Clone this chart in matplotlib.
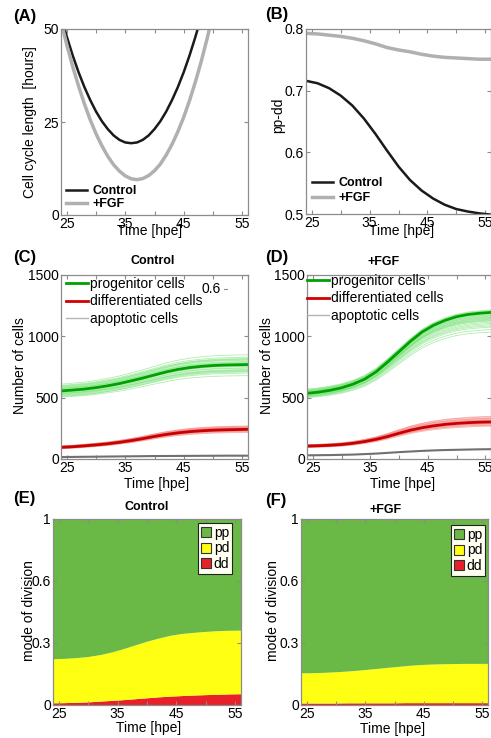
import matplotlib
matplotlib.use('Agg')
import matplotlib.pyplot as plt
import numpy as np
from matplotlib.patches import Patch
from matplotlib.lines import Line2D

plt.rcParams['font.family'] = ['Liberation Sans', 'DejaVu Sans']

# ---------------- data ----------------
# (A) cell cycle length [hours]
tA = list(range(24, 51))
ccl_control = [53.3, 47.9, 42.9, 38.4, 34.4, 30.9, 27.8, 25.2, 23.1, 21.4, 20.2, 19.5, 19.3,
               19.5, 20.2, 21.4, 23.1, 25.2, 27.8, 30.9, 34.4, 38.4, 42.9, 47.9, 53.3, 59.0, 65.0]
ccl_fgf = [52.0, 45.7, 39.9, 34.7, 29.9, 25.6, 21.8, 18.6, 15.8, 13.5, 11.8, 10.5, 9.75,
           9.5, 9.8, 10.6, 11.9, 13.7, 16.1, 19.0, 22.4, 26.3, 30.8, 35.8, 41.3, 47.4, 53.9]

# common time grid (hpe)
t = list(range(24, 57, 2))

# (B) pp-dd
ppdd_control = [0.716, 0.712, 0.704, 0.692, 0.676, 0.655, 0.630, 0.603, 0.577,
                0.555, 0.538, 0.525, 0.515, 0.508, 0.504, 0.501, 0.499]
ppdd_fgf = [0.793, 0.792, 0.790, 0.788, 0.785, 0.781, 0.776, 0.770, 0.766,
            0.763, 0.759, 0.756, 0.754, 0.753, 0.752, 0.751, 0.751]

# (C) control cell numbers (mean of runs)
prog_C = [555, 562, 570, 582, 597, 615, 637, 660, 685, 710, 730, 745, 755, 762, 766, 768, 770]
diff_C = [95, 100, 107, 115, 124, 136, 150, 166, 184, 200, 213, 223, 230, 235, 238, 240, 242]
apop_C = [16, 17, 18, 19, 20, 21, 22, 23, 24, 24.5, 25, 25.5, 26, 26.5, 27, 27, 27]
# (D) +FGF cell numbers
prog_D = [535, 545, 560, 580, 610, 650, 710, 790, 875, 960, 1035, 1090, 1130, 1160, 1178, 1188, 1195]
diff_D = [105, 108, 112, 118, 128, 142, 160, 183, 210, 235, 255, 270, 282, 290, 296, 300, 302]
apop_D = [30, 31, 32, 34, 36, 40, 44, 50, 56, 61, 66, 70, 73, 75, 77, 79, 80]

# individual runs: (deviation at start, deviation at end) from the mean
runs_prog_C = [(-50, -90), (-40, -70), (-35, -55), (-30, -45), (-25, -40), (-20, -30), (-15, -25),
               (-10, -15), (-5, -10), (0, -5), (5, 5), (10, 10), (15, 20), (20, 25), (25, 35),
               (30, 40), (35, 50), (45, 60), (55, 80), (-45, -60), (40, 45), (-20, -50), (20, 15)]
runs_diff_C = [(-12, -25), (-9, -20), (-7, -15), (-5, -10), (-3, -6), (0, -2), (2, 3), (4, 8),
               (6, 12), (8, 16), (10, 20), (12, 25), (-2, -12), (3, 15), (-6, 5), (5, -5), (0, 10), (9, 28)]
runs_prog_D = [(-35, -160), (-30, -140), (-25, -120), (-20, -100), (-15, -90), (-10, -80), (-5, -70),
               (0, -60), (5, -50), (10, -45), (15, -35), (20, -25), (25, -15), (30, -5), (35, 10),
               (-20, -55), (0, -30), (10, 0), (20, 15), (-10, -110), (5, -20), (15, -65), (25, 20), (-25, -40)]
runs_diff_D = [(-12, -35), (-9, -25), (-7, -18), (-5, -12), (-3, -6), (0, 0), (2, 6), (4, 12),
               (6, 18), (8, 25), (10, 32), (12, 40), (-2, 15), (3, -15), (-6, 8), (5, 28), (0, -28), (9, 45)]

# (E)/(F) mode of division fractions
dd_E = [0.009, 0.010, 0.012, 0.014, 0.018, 0.022, 0.026, 0.031, 0.036, 0.041, 0.045, 0.048,
        0.051, 0.053, 0.055, 0.057, 0.058]
pdtop_E = [0.246, 0.248, 0.252, 0.258, 0.268, 0.282, 0.300, 0.320, 0.340, 0.357, 0.372, 0.382,
           0.388, 0.393, 0.397, 0.399, 0.400]
dd_F = [0.008, 0.008, 0.008, 0.008, 0.009, 0.009, 0.009, 0.009, 0.009, 0.010, 0.010, 0.010,
        0.010, 0.010, 0.010, 0.010, 0.010]
pdtop_F = [0.170, 0.171, 0.173, 0.176, 0.180, 0.185, 0.191, 0.197, 0.203, 0.209, 0.214, 0.217,
           0.219, 0.220, 0.221, 0.221, 0.221]

xtick_vals = [25, 30, 35, 40, 45, 50, 55]
xtick_labs = ['25', '', '35', '', '45', '', '55']

# ---------------- figure ----------------
W, H = 491, 738
fig = plt.figure(figsize=(W / 100, H / 100), dpi=100)
SPINE = '#8c8c8c'
FS = 9.5


def add_ax(l, r, top, b):
    return fig.add_axes([l / W, 1 - b / H, (r - l) / W, (b - top) / H])


def style(ax, yticks, ylabs, ylim):
    ax.set_xlim(24, 56)
    ax.set_xticks(xtick_vals)
    ax.set_xticklabels(xtick_labs)
    ax.set_ylim(ylim)
    ax.set_yticks(yticks)
    ax.set_yticklabels(ylabs)
    ax.tick_params(direction='in', top=True, right=True, length=3, width=0.8,
                   color=SPINE, labelsize=FS + 0.5, pad=1.5)
    for s in ax.spines.values():
        s.set_color(SPINE)
        s.set_linewidth(0.9)


def ftext(x, y, s, **kw):
    fig.text(x / W, 1 - y / H, s, ha='center', va='center', **kw)


def leg_anchor(x, y):
    return (x / W, 1 - y / H)


# (A)
axA = add_ax(61, 248, 29, 215)
axA.plot(tA, ccl_control, color='#1a1a1a', lw=1.8, label='Control')
axA.plot(tA, ccl_fgf, color='#b0b0b0', lw=2.5, label='+FGF')
style(axA, [0, 25, 50], ['0', '25', '50'], (0, 50))
axA.legend(loc='upper left', bbox_to_anchor=leg_anchor(66, 185), bbox_transform=fig.transFigure,
           frameon=False, prop={'weight': 'bold', 'size': 9}, handlelength=1.7,
           handletextpad=0.4, borderpad=0, borderaxespad=0, labelspacing=0.1)

# (B)
axB = add_ax(306, 491, 29, 214)
axB.plot(t, ppdd_control, color='#1a1a1a', lw=1.8, label='Control')
axB.plot(t, ppdd_fgf, color='#b0b0b0', lw=2.5, label='+FGF')
style(axB, [0.5, 0.6, 0.7, 0.8], ['0.5', '0.6', '0.7', '0.8'], (0.5, 0.8))
axB.legend(loc='upper left', bbox_to_anchor=leg_anchor(312, 177), bbox_transform=fig.transFigure,
           frameon=False, prop={'weight': 'bold', 'size': 9}, handlelength=1.7,
           handletextpad=0.4, borderpad=0, borderaxespad=0, labelspacing=0.25)


def draw_runs(ax, mean, runs, color):
    m = np.array(mean, dtype=float)
    prog = (m - m[0]) / (m[-1] - m[0])
    for d0, d1 in runs:
        ax.plot(t, m + d0 + (d1 - d0) * prog, color=color, lw=0.6, alpha=0.55)


def cells_panel(ax, prog, diff, apop, rp, rd):
    draw_runs(ax, prog, rp, '#6fe06f')
    draw_runs(ax, diff, rd, '#f47a7a')
    ax.plot(t, prog, color='#00a000', lw=2.0)
    ax.plot(t, diff, color='#c80000', lw=2.0)
    ax.plot(t, apop, color='#707070', lw=1.5)
    style(ax, [0, 500, 1000, 1500], ['0', '500', '1000', '1500'], (0, 1500))
    handles = [Line2D([], [], color='#00a000', lw=2.0),
               Line2D([], [], color='#d00000', lw=2.0),
               Line2D([], [], color='#b5b5b5', lw=1.0)]
    return handles


axC = add_ax(61, 248, 275, 459)
hC = cells_panel(axC, prog_C, diff_C, apop_C, runs_prog_C, runs_diff_C)
axC.legend(hC, ['progenitor cells', 'differentiated cells', 'apoptotic cells'],
           loc='upper left', bbox_to_anchor=leg_anchor(66, 277), bbox_transform=fig.transFigure,
           frameon=False, fontsize=FS + 0.5, handlelength=1.6, handletextpad=0.1,
           borderpad=0, borderaxespad=0, labelspacing=0.25)

axD = add_ax(307, 491, 275, 459)
hD = cells_panel(axD, prog_D, diff_D, apop_D, runs_prog_D, runs_diff_D)
axD.legend(hD, ['progenitor cells', 'differentiated cells', 'apoptotic cells'],
           loc='upper left', bbox_to_anchor=leg_anchor(307, 274), bbox_transform=fig.transFigure,
           frameon=False, fontsize=FS + 0.5, handlelength=1.6, handletextpad=0.1,
           borderpad=0, borderaxespad=0, labelspacing=0.25)

# stray label inside (C)
ftext(211, 289, '0.6', fontsize=FS + 0.5)
fig.add_artist(Line2D([224 / W, 227 / W], [1 - 289 / H, 1 - 289 / H], color=SPINE, lw=0.8))

GREEN, YELLOW, RED = '#6ab845', '#ffff14', '#e8202a'


def mode_panel(ax, dd, pdtop, anchor):
    dd = np.array(dd)
    pd_ = np.array(pdtop) - dd
    pp = 1 - np.array(pdtop)
    ax.stackplot(t, dd, pd_, pp, colors=[RED, YELLOW, GREEN], lw=0)
    style(ax, [0, 1 / 3, 2 / 3, 1], ['0', '0.3', '0.6', '1'], (0, 1))
    hs = [Patch(facecolor=GREEN, edgecolor='#333333', lw=0.8),
          Patch(facecolor=YELLOW, edgecolor='#333333', lw=0.8),
          Patch(facecolor=RED, edgecolor='#333333', lw=0.8)]
    lg = ax.legend(hs, ['pp', 'pd', 'dd'], loc='upper right', bbox_to_anchor=leg_anchor(*anchor),
                   bbox_transform=fig.transFigure, fontsize=FS + 0.5, handlelength=0.75,
                   handleheight=0.75, handletextpad=0.2, borderpad=0.2, borderaxespad=0,
                   labelspacing=0.12, fancybox=False, framealpha=1)
    lg.get_frame().set_facecolor('#fffff2')
    lg.get_frame().set_edgecolor('#222222')
    lg.get_frame().set_linewidth(0.8)


axE = add_ax(53, 241, 519, 705)
mode_panel(axE, dd_E, pdtop_E, (232, 523))
axF = add_ax(301, 488, 519, 705)
mode_panel(axF, dd_F, pdtop_F, (485, 525))

# labels
ftext(30, 122, 'Cell cycle length  [hours]', rotation=90, fontsize=FS + 0.5)
ftext(278, 115, 'pp-dd', rotation=90, fontsize=FS + 0.5)
ftext(20, 366, 'Number of cells', rotation=90, fontsize=FS + 0.5)
ftext(267, 366, 'Number of cells', rotation=90, fontsize=FS + 0.5)
ftext(29, 611, 'mode of division', rotation=90, fontsize=FS + 0.5)
ftext(273, 611, 'mode of division', rotation=90, fontsize=FS + 0.5)

for x, y in [(150, 231), (402, 231), (157, 484), (403, 484), (149, 728), (393, 729)]:
    ftext(x, y, 'Time [hpe]', fontsize=FS + 0.5)

ftext(153, 261, 'Control', fontsize=9, fontweight='bold')
ftext(384, 262, '+FGF', fontsize=9, fontweight='bold')
ftext(147, 507, 'Control', fontsize=9, fontweight='bold')
ftext(386, 510, '+FGF', fontsize=9, fontweight='bold')

for lab, x, y in [('(A)', 25, 16), ('(B)', 277, 15), ('(C)', 25, 257), ('(D)', 277, 257),
                  ('(E)', 24, 499), ('(F)', 276, 500)]:
    ftext(x, y, lab, fontsize=12, fontweight='bold')

fig.savefig('out.png', dpi=100)
